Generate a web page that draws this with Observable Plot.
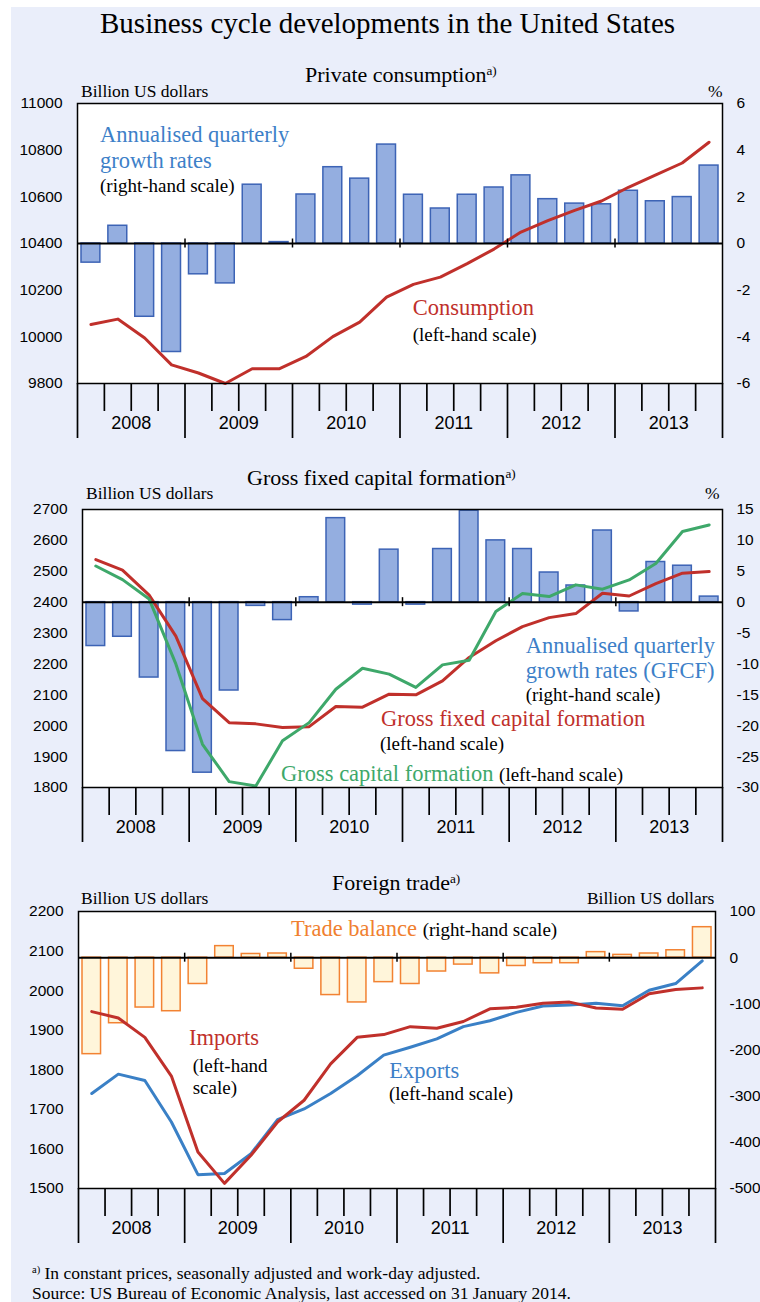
<!DOCTYPE html>
<html>
<head>
<meta charset="utf-8">
<script src="https://cdn.jsdelivr.net/npm/d3@7"></script>
<script src="https://cdn.jsdelivr.net/npm/@observablehq/plot@0.6"></script>
<style>
html, body { margin: 0; padding: 0; background: #fff; overflow: hidden; }
#page { position: relative; width: 760px; height: 1302px; background: #fff; overflow: hidden; }
#bg { position: absolute; left: 11px; top: 7px; right: 0; bottom: 0; background: #eaeefa; }
.panel { position: absolute; left: 0; width: 760px; }
.t { position: absolute; white-space: nowrap; font-family: "Liberation Serif", "Times New Roman", serif; line-height: 1; color: #000; }
.t sup { font-size: 0.6em; vertical-align: 0.55em; line-height: 0; }
</style>
</head>
<body>
<div id="page"><div id="bg"></div></div>
<script>
// ---------- data ----------
const quarters = ["2008Q1","2008Q2","2008Q3","2008Q4","2009Q1","2009Q2","2009Q3","2009Q4",
                  "2010Q1","2010Q2","2010Q3","2010Q4","2011Q1","2011Q2","2011Q3","2011Q4",
                  "2012Q1","2012Q2","2012Q3","2012Q4","2013Q1","2013Q2","2013Q3","2013Q4"];
const years = [2008, 2009, 2010, 2011, 2012, 2013];

// Private consumption (billion USD, left) and annualised q/q growth (%, right)
const consumption = [10053, 10076, 9995, 9880, 9845, 9800, 9863, 9863, 9916, 10001, 10063, 10170,
                     10225, 10256, 10314, 10376, 10449, 10498, 10542, 10582, 10641, 10693, 10745, 10834];
const consumptionGrowth = [-0.82, 0.76, -3.14, -4.65, -1.32, -1.71, 2.52, 0.06, 2.10, 3.27, 2.78, 4.24,
                           2.09, 1.50, 2.09, 2.40, 2.92, 1.90, 1.71, 1.68, 2.26, 1.81, 1.99, 3.34];
const consLeftTicks = [9800, 10000, 10200, 10400, 10600, 10800, 11000];
const consRightTicks = [-6, -4, -2, 0, 2, 4, 6];

// Gross fixed capital formation / gross capital formation (left), GFCF growth (%, right)
const gfcf = [2538, 2504, 2423, 2290, 2088, 2010, 2006, 1994, 1997, 2062, 2060, 2102,
              2100, 2145, 2221, 2275, 2321, 2350, 2363, 2429, 2420, 2460, 2494, 2499];
const gcf = [2517, 2473, 2410, 2200, 1940, 1819, 1805, 1951, 2010, 2118, 2186, 2167,
             2124, 2197, 2212, 2370, 2428, 2418, 2456, 2442, 2472, 2525, 2629, 2650];
const gfcfGrowth = [-7.1, -5.6, -12.2, -24.1, -27.6, -14.3, -0.6, -2.9, 0.8, 13.6, -0.4, 8.5,
                    -0.4, 8.6, 14.8, 10.0, 8.6, 4.8, 2.7, 11.6, -1.5, 6.5, 5.9, 0.9];
const gfcfLeftTicks = [1800, 1900, 2000, 2100, 2200, 2300, 2400, 2500, 2600, 2700];
const gfcfRightTicks = [-30, -25, -20, -15, -10, -5, 0, 5, 10, 15];

// Foreign trade (billion USD)
const imports = [1947, 1931, 1882, 1784, 1592, 1513, 1584, 1668, 1723, 1815, 1882, 1889,
                 1909, 1905, 1922, 1954, 1958, 1968, 1971, 1956, 1953, 1992, 2003, 2007];
const exports = [1740, 1789, 1773, 1668, 1535, 1538, 1588, 1674, 1701, 1740, 1785, 1837,
                 1857, 1878, 1909, 1924, 1945, 1961, 1964, 1968, 1962, 2001, 2018, 2075];
const tradeBalance = [-209, -142, -108, -116, -57, 25, 8, 9, -24, -81, -97, -53,
                      -57, -30, -15, -34, -18, -12, -12, 12, 6, 9, 16, 66];
const tradeLeftTicks = [1500, 1600, 1700, 1800, 1900, 2000, 2100, 2200];
const tradeRightTicks = [-500, -400, -300, -200, -100, 0, 100];

// ---------- styles ----------
const C = {
  barFill: "#94aee0", barStroke: "#3c63b5",
  red: "#c0302b", blue: "#3a80c6", green: "#3ea86a",
  orange: "#f28232", orangeFill: "#fff5da",
  blueText: "#3d80c8", redText: "#c0302b", greenText: "#3ea86a", orangeText: "#f08030"
};
const page = document.getElementById("page");
const qStart = q => +q.slice(0, 4) + (+q.slice(5) - 1) / 4;

function panel(cfg) {
  const toLeft = d3.scaleLinear().domain(cfg.rightDomain).range(cfg.leftDomain);
  const zero = toLeft(0);
  const rows = quarters.map((q, i) => {
    const r = {t: qStart(q), bar: cfg.bars[i]};
    cfg.lines.forEach(l => r[l.name] = l.values[i]);
    return r;
  });
  const plotH = cfg.height - cfg.mT - cfg.mB;
  const span = cfg.leftDomain[1] - cfg.leftDomain[0];
  const tickHalf = span * 4.5 / plotH;
  const yearBounds = [...years, years[years.length - 1] + 1];
  const quarterInner = quarters.filter(q => !q.endsWith("Q1")).map(qStart);
  const chart = Plot.plot({
    width: 760,
    height: cfg.height,
    marginLeft: cfg.mL, marginRight: cfg.mR, marginTop: cfg.mT, marginBottom: cfg.mB,
    style: {fontFamily: "'Liberation Sans', Arial, sans-serif", fontSize: "15.5px", background: "transparent", color: "#000"},
    x: {type: "linear", domain: [years[0], years[years.length - 1] + 1], label: null},
    y: {domain: cfg.leftDomain, label: null},
    marks: [
      Plot.frame({fill: "white", stroke: null}),
      Plot.rect(rows, {x1: d => d.t, x2: d => d.t + 0.25, y1: zero, y2: d => toLeft(d.bar),
        fill: cfg.barFill, stroke: cfg.barStroke, strokeWidth: 1.5, insetLeft: 4, insetRight: 4}),
      ...cfg.lines.map(l => Plot.line(rows, {x: d => d.t + 0.125, y: l.name, stroke: l.color, strokeWidth: 3})),
      Plot.ruleY([zero], {stroke: "black", strokeWidth: 2}),
      Plot.ruleX(years.slice(1), {x: d => d, y1: zero - tickHalf, y2: zero + tickHalf, stroke: "black", strokeWidth: 1.5}),
      Plot.frame({stroke: "black", strokeWidth: 1.5}),
      Plot.axisY(cfg.leftTicks, {anchor: "left", tickSize: 0, tickPadding: 15, tickFormat: d => String(d), label: null}),
      Plot.axisY(cfg.rightTicks.map(v => toLeft(v)), {anchor: "right", tickSize: 0, tickPadding: 14,
        tickFormat: v => String(Math.round(toLeft.invert(v))), label: null}),
      Plot.axisX(quarterInner, {anchor: "bottom", tickSize: 28, tickFormat: () => "", strokeWidth: 1.7, label: null}),
      Plot.axisX(yearBounds, {anchor: "bottom", tickSize: 55, tickFormat: () => "", strokeWidth: 1.7, label: null}),
      Plot.text(years, {x: d => d + 0.5, frameAnchor: "bottom", dy: 45.5, text: d => String(d), fontSize: 18})
    ]
  });
  const div = document.createElement("div");
  div.className = "panel";
  div.style.top = cfg.top + "px";
  div.appendChild(chart);
  page.appendChild(div);
}

panel({top: 84, height: 365, mL: 77, mR: 38, mT: 19, mB: 66,
  leftDomain: [9800, 11000], rightDomain: [-6, 6],
  leftTicks: consLeftTicks, rightTicks: consRightTicks,
  bars: consumptionGrowth, barFill: C.barFill, barStroke: C.barStroke,
  lines: [{name: "consumption", values: consumption, color: C.red}]});

panel({top: 488, height: 365, mL: 82, mR: 38, mT: 21, mB: 66,
  leftDomain: [1800, 2700], rightDomain: [-30, 15],
  leftTicks: gfcfLeftTicks, rightTicks: gfcfRightTicks,
  bars: gfcfGrowth, barFill: C.barFill, barStroke: C.barStroke,
  lines: [{name: "gfcf", values: gfcf, color: C.red}, {name: "gcf", values: gcf, color: C.green}]});

panel({top: 890, height: 364, mL: 78, mR: 45, mT: 21, mB: 66,
  leftDomain: [1500, 2200], rightDomain: [-500, 100],
  leftTicks: tradeLeftTicks, rightTicks: tradeRightTicks,
  bars: tradeBalance, barFill: C.orangeFill, barStroke: C.orange,
  lines: [{name: "exports", values: exports, color: C.blue}, {name: "imports", values: imports, color: C.red}]});

// ---------- texts ----------
function label(html, x, baseline, size, opts = {}) {
  const el = document.createElement("div");
  el.className = "t";
  el.innerHTML = html;
  el.style.fontSize = size + "px";
  el.style.top = (baseline - 0.8375 * size) + "px";
  if (opts.right) el.style.right = (760 - x) + "px"; else el.style.left = x + "px";
  if (opts.color) el.style.color = opts.color;
  page.appendChild(el);
}
const span = (c, s) => `<span style="color:${c}">${s}</span>`;

label("Business cycle developments in the United States", 100, 33, 29);

label("Private consumption<sup>a)</sup>", 305, 82, 22);
label("Billion US dollars", 81, 97.7, 17.5);
label("%", 708, 97.7, 17.5);
label("Annualised quarterly", 100, 143.2, 22.5, {color: C.blueText});
label("growth rates", 100, 168.8, 22.5, {color: C.blueText});
label("(right-hand scale)", 100, 192, 19);
label("Consumption", 412.7, 316, 22.5, {color: C.redText});
label("(left-hand scale)", 412.7, 340.5, 19);

label("Gross fixed capital formation<sup>a)</sup>", 247, 485, 22);
label("Billion US dollars", 86, 499.3, 17.5);
label("%", 705, 499.3, 17.5);
label("Annualised quarterly", 525.7, 653.5, 22.5, {color: C.blueText});
label("growth rates (GFCF)", 525.7, 679, 22.5, {color: C.blueText});
label("(right-hand scale)", 525.7, 701, 19);
label("Gross fixed capital formation", 381, 726.5, 22.5, {color: C.redText});
label("(left-hand scale)", 380, 749.5, 19);
label(span(C.greenText, "Gross capital formation") + ' <span style="font-size:19px">(left-hand scale)</span>', 281, 782, 22.5);

label("Foreign trade<sup>a)</sup>", 332, 890, 22);
label("Billion US dollars", 81, 904.3, 17.5);
label("Billion US dollars", 714.3, 904.3, 17.5, {right: true});
label(span(C.orangeText, "Trade balance") + ' <span style="font-size:19px">(right-hand scale)</span>', 291, 937, 22.5);
label("Imports", 189, 1045.5, 22.5, {color: C.redText});
label("(left-hand", 192.7, 1072.3, 19);
label("scale)", 192.7, 1094, 19);
label("Exports", 389.3, 1078.5, 22.5, {color: C.blueText});
label("(left-hand scale)", 389, 1100, 19);

label("<sup>a)</sup> In constant prices, seasonally adjusted and work-day adjusted.", 32, 1279.3, 17.5);
label("Source: US Bureau of Economic Analysis, last accessed on 31 January 2014.", 32, 1299.3, 17.5);
</script>
</body>
</html>
